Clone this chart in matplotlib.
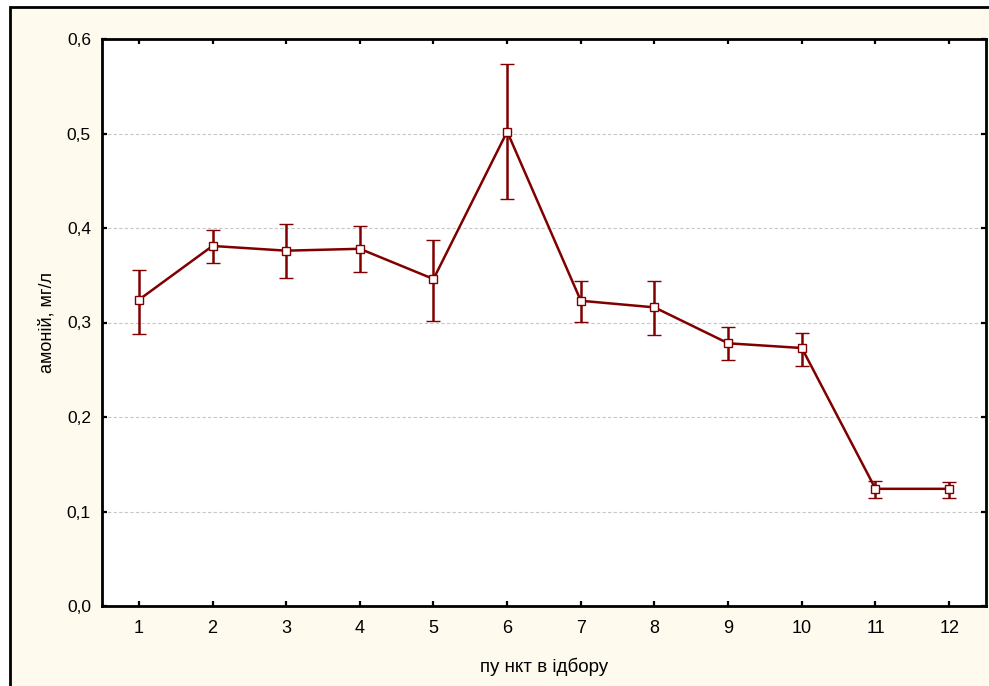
import matplotlib.pyplot as plt
from matplotlib.patches import Rectangle
from matplotlib.ticker import FuncFormatter

plt.rcParams['font.family'] = ['Liberation Sans', 'DejaVu Sans']

# пункти відбору та значення амонію (середнє, нижня і верхня межі)
punkty = [1, 2, 3, 4, 5, 6, 7, 8, 9, 10, 11, 12]
serednie = [0.324, 0.381, 0.376, 0.378, 0.346, 0.502, 0.323, 0.316, 0.278, 0.273, 0.124, 0.124]
nyzh = [0.288, 0.363, 0.347, 0.353, 0.302, 0.431, 0.301, 0.287, 0.260, 0.254, 0.114, 0.114]
verkh = [0.356, 0.398, 0.404, 0.402, 0.387, 0.574, 0.344, 0.344, 0.295, 0.289, 0.132, 0.131]
yticks = [0.0, 0.1, 0.2, 0.3, 0.4, 0.5, 0.6]

kolir = '#800000'

fig = plt.figure(figsize=(9.89, 6.86), dpi=100, facecolor='white')
ramka = Rectangle((10 / 989, -0.5), 2, 1 - 7 / 686 + 0.5, transform=fig.transFigure,
                  facecolor='#fffaee', edgecolor='black', linewidth=2, zorder=-10)
fig.patches.append(ramka)

ax = fig.add_axes([102 / 989, 80 / 686, 884 / 989, 567 / 686])
ax.set_zorder(1)
ax.set_facecolor('white')

err_low = [s - n for s, n in zip(serednie, nyzh)]
err_up = [v - s for v, s in zip(verkh, serednie)]
ax.errorbar(punkty, serednie, yerr=[err_low, err_up], color=kolir, linewidth=1.8,
            elinewidth=1.8, capsize=5, capthick=2, marker='s', markersize=5.5,
            markerfacecolor='white', markeredgecolor=kolir, markeredgewidth=1, zorder=3)

ax.set_xlim(0.5, 12.5)
ax.set_ylim(0, 0.6)
ax.set_xticks(punkty)
ax.set_yticks(yticks)
ax.yaxis.set_major_formatter(FuncFormatter(lambda v, p: f'{v:.1f}'.replace('.', ',')))
ax.grid(axis='y', color='#c8c8c8', linestyle=(0, (3, 2)), linewidth=0.8)
ax.set_axisbelow(True)

ax.tick_params(direction='in', length=3.5, width=1.6, top=True, right=True)
ax.tick_params(axis='x', pad=10, labelsize=13)
ax.tick_params(axis='y', pad=8, labelsize=12.5)
for s in ax.spines.values():
    s.set_linewidth(2)

ax.set_xlabel('пу нкт в ідбору', fontsize=13.5, labelpad=15)
ax.set_ylabel('амоній, мг/л', fontsize=13, labelpad=8)

fig.savefig('out.png', dpi=100, facecolor=fig.get_facecolor())
